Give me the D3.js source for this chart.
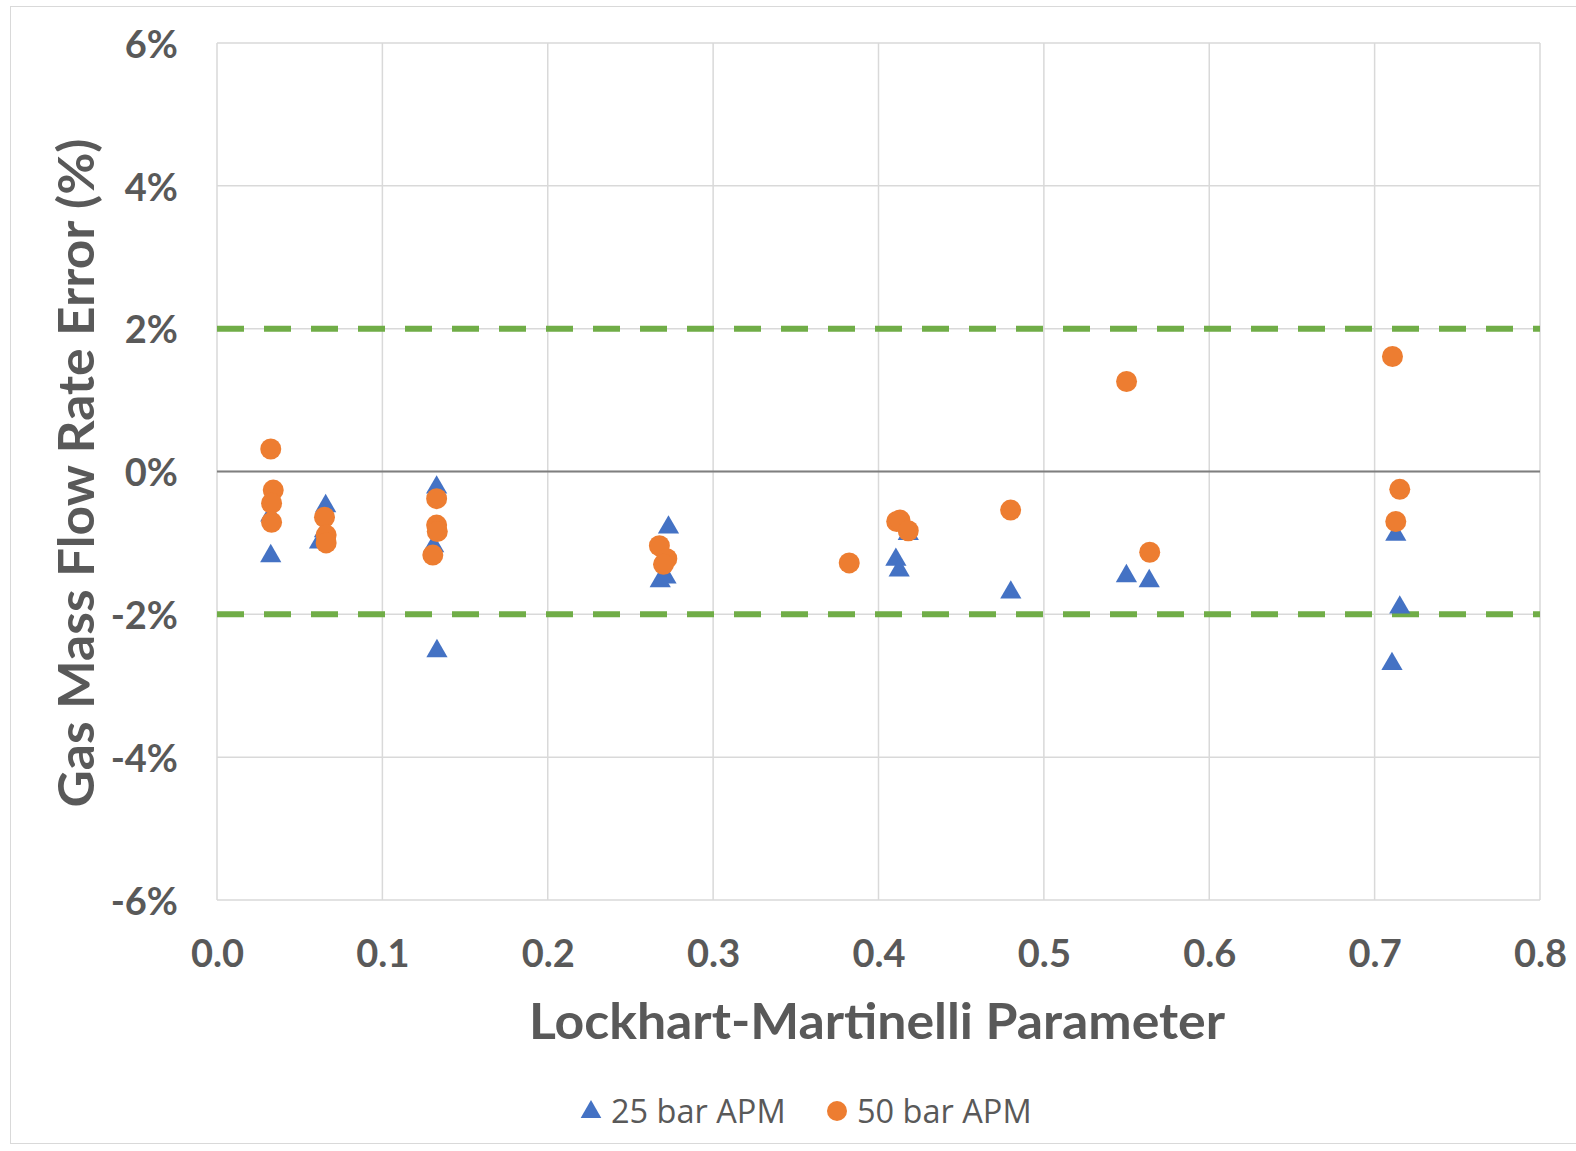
<!DOCTYPE html>
<html><head><meta charset="utf-8">
<script src="https://cdn.jsdelivr.net/npm/d3@7"></script>
<style>body{margin:0;background:#fff}svg{display:block}</style>
</head><body>
<script>
const xTicks = [0, 0.1, 0.2, 0.3, 0.4, 0.5, 0.6, 0.7, 0.8];
const yTicks = [-6, -4, -2, 0, 2, 4, 6];
const limitLines = [2, -2];
const series25X = [0.0325, 0.0325, 0.0657, 0.0650, 0.0620, 0.1328, 0.1310, 0.1330, 0.2730, 0.2680, 0.2715, 0.4180, 0.4105, 0.4125, 0.4800, 0.5499, 0.5637, 0.7128, 0.7152, 0.7105];
const series25Y = [-0.60, -1.17, -0.47, -0.82, -0.98, -0.21, -1.03, -2.50, -0.77, -1.52, -1.47, -0.86, -1.22, -1.37, -1.68, -1.45, -1.52, -0.87, -1.89, -2.68];
const series50X = [0.0325, 0.0340, 0.0330, 0.0330, 0.0650, 0.0660, 0.0660, 0.1328, 0.1328, 0.1332, 0.1305, 0.2675, 0.2720, 0.2700, 0.3823, 0.4110, 0.4130, 0.4180, 0.4799, 0.5500, 0.5640, 0.7108, 0.7152, 0.7128];
const series50Y = [0.315, -0.26, -0.445, -0.71, -0.64, -0.89, -1.00, -0.38, -0.75, -0.84, -1.17, -1.04, -1.22, -1.30, -1.28, -0.70, -0.68, -0.83, -0.54, 1.26, -1.13, 1.61, -0.25, -0.70];
const seriesNames = ["25 bar APM", "50 bar APM"];
const colors = ["#4472C4", "#ED7D31"];

const W = 1576, H = 1151;
const svg = d3.select("body").append("svg").attr("width", W).attr("height", H);
svg.append("rect").attr("x", 10.5).attr("y", 6.5).attr("width", W).attr("height", 1137)
  .attr("fill", "#fff").attr("stroke", "#d9d9d9");

const L = 217, R = 1540, T = 43, B = 900;
const x = d3.scaleLinear().domain([0, 0.8]).range([L, R]);
const y = d3.scaleLinear().domain([-6, 6]).range([B, T]);

const font = "Lato, 'Open Sans', sans-serif";
// gridlines
svg.append("g").selectAll("line").data(xTicks).join("line")
  .attr("x1", d => x(d)).attr("x2", d => x(d)).attr("y1", T).attr("y2", B)
  .attr("stroke", "#d9d9d9").attr("stroke-width", 1.5);
svg.append("g").selectAll("line").data(yTicks).join("line")
  .attr("x1", L).attr("x2", R).attr("y1", d => y(d)).attr("y2", d => y(d))
  .attr("stroke", "#d9d9d9").attr("stroke-width", 1.5);
// zero line
svg.append("line").attr("x1", L).attr("x2", R).attr("y1", y(0)).attr("y2", y(0))
  .attr("stroke", "#7f7f7f").attr("stroke-width", 2);

// axes with d3
const xAxis = d3.axisBottom(x).tickValues(xTicks).tickFormat(d3.format(".1f")).tickSize(0).tickPadding(40);
const gx = svg.append("g").attr("transform", `translate(0,${B})`).call(xAxis);
gx.select(".domain").remove();
gx.selectAll("text").attr("font-family", font).attr("font-weight", 700).attr("font-size", 38).attr("fill", "#595959");
const yAxis = d3.axisLeft(y).tickValues(yTicks).tickFormat(d => d + "%").tickSize(0).tickPadding(39);
const gy = svg.append("g").attr("transform", `translate(${L},2)`).call(yAxis);
gy.select(".domain").remove();
gy.selectAll("text").attr("font-family", font).attr("font-weight", 700).attr("font-size", 38).attr("fill", "#595959");

// limit lines
svg.append("g").selectAll("line").data(limitLines).join("line")
  .attr("x1", L).attr("x2", R).attr("y1", d => y(d)).attr("y2", d => y(d))
  .attr("stroke", "#70AD47").attr("stroke-width", 6).attr("stroke-dasharray", "27,20");

// markers
const tri = d3.symbol().type(d3.symbolTriangle).size(195);
const pts25 = series25X.map((v, i) => [v, series25Y[i]]);
const pts50 = series50X.map((v, i) => [v, series50Y[i]]);
svg.append("g").selectAll("path").data(pts25).join("path")
  .attr("d", tri).attr("transform", d => `translate(${x(d[0])},${y(d[1]) + 1})`)
  .attr("fill", colors[0]);
svg.append("g").selectAll("circle").data(pts50).join("circle")
  .attr("cx", d => x(d[0])).attr("cy", d => y(d[1])).attr("r", 10.5)
  .attr("fill", colors[1]);

// axis titles
svg.append("text").attr("x", 877).attr("y", 1039).attr("text-anchor", "middle")
  .attr("font-family", font).attr("font-weight", 700).attr("font-size", 49).attr("fill", "#595959")
  .attr("textLength", 696).attr("lengthAdjust", "spacingAndGlyphs")
  .text("Lockhart-Martinelli Parameter");
svg.append("text").attr("transform", `translate(94,${473}) rotate(-90)`).attr("text-anchor", "middle")
  .attr("font-family", font).attr("font-weight", 700).attr("font-size", 49).attr("fill", "#595959")
  .attr("textLength", 669).attr("lengthAdjust", "spacingAndGlyphs")
  .text("Gas Mass Flow Rate Error (%)");

// legend
const lg = svg.append("g");
lg.append("path").attr("d", d3.symbol().type(d3.symbolTriangle).size(185))
  .attr("transform", "translate(591,1112)").attr("fill", colors[0]);
lg.append("text").attr("x", 611).attr("y", 1123).attr("font-family", "'Open Sans', sans-serif").attr("font-size", 32.5)
  .attr("fill", "#595959").text(seriesNames[0]);
lg.append("circle").attr("cx", 837).attr("cy", 1111).attr("r", 10).attr("fill", colors[1]);
lg.append("text").attr("x", 857).attr("y", 1123).attr("font-family", "'Open Sans', sans-serif").attr("font-size", 32.5)
  .attr("fill", "#595959").text(seriesNames[1]);
</script>
</body></html>
